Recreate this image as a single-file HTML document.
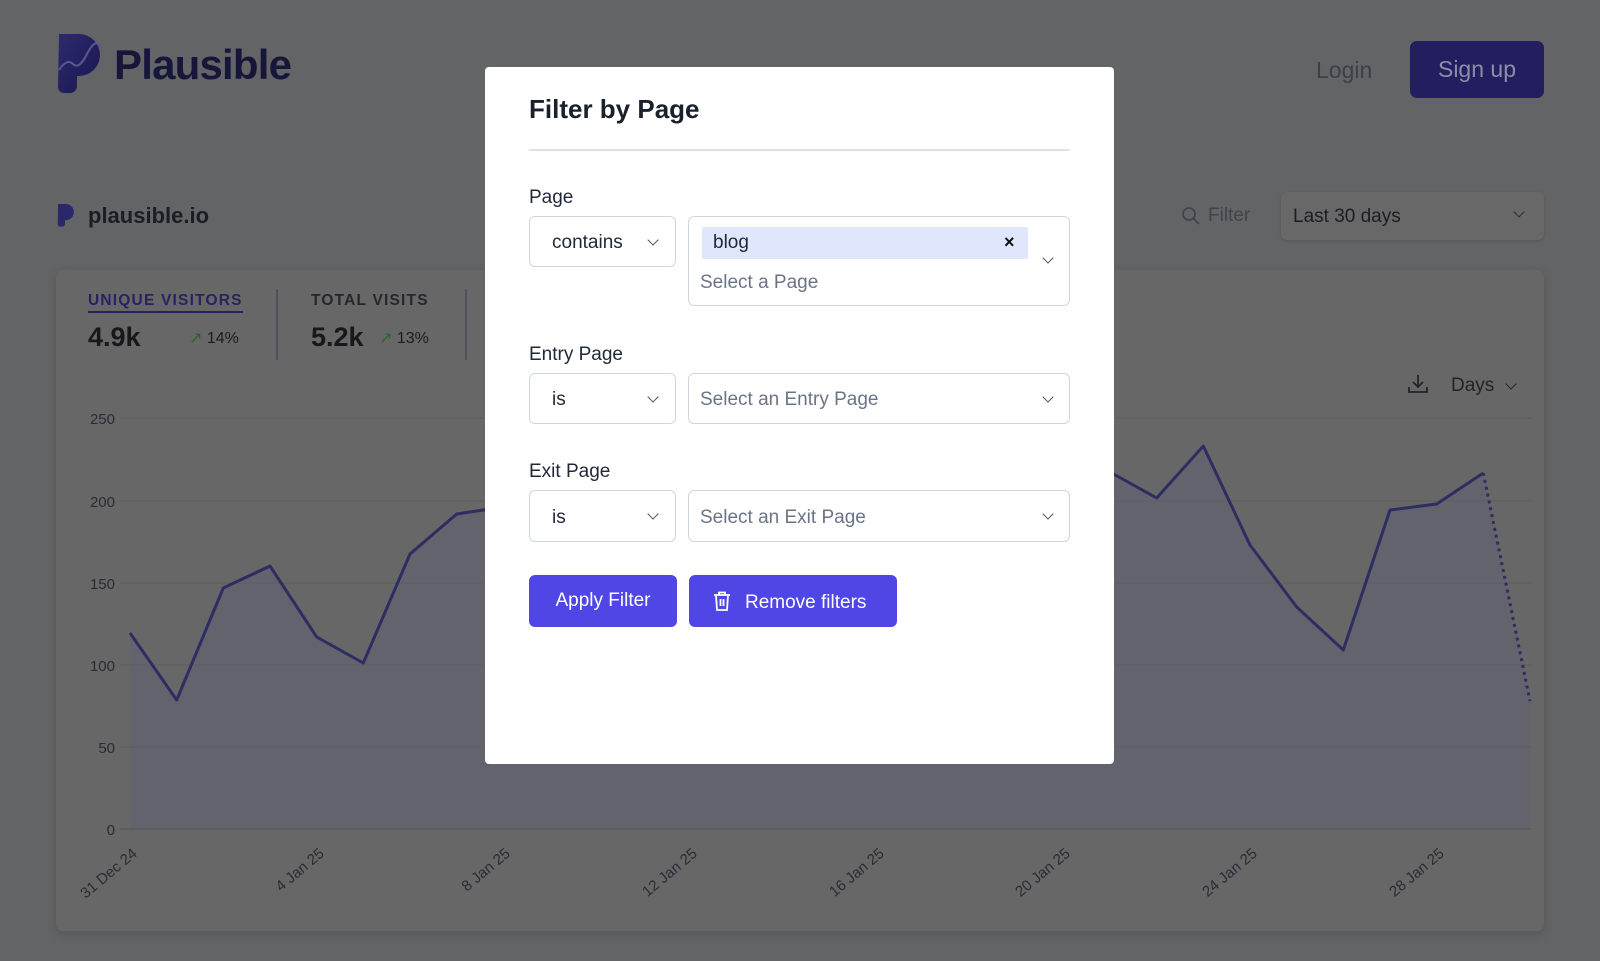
<!DOCTYPE html>
<html><head><meta charset="utf-8"><style>
*{box-sizing:border-box;margin:0;padding:0}
body{width:1600px;height:961px;overflow:hidden;background:#636466;font-family:"Liberation Sans",sans-serif;position:relative}
.a{position:absolute;white-space:nowrap}
.sel{position:absolute;background:#fff;border:1.5px solid #cfd5e1;border-radius:6px}
.chev{position:absolute;width:8px;height:8px;border-right:1.6px solid #4b5563;border-bottom:1.6px solid #4b5563;transform:rotate(45deg)}
.lbl{font-size:19px;color:#1f2937}
.btn{position:absolute;background:#4f46e5;border-radius:6px;color:#fff;font-size:19px}
</style></head><body>
<svg class="a" style="left:57px;top:34px" width="45" height="60" viewBox="0 0 45 60">
<defs><linearGradient id="g" x1="0" y1="0" x2="1" y2="1"><stop offset="0" stop-color="#2c2a6e"/><stop offset="1" stop-color="#1b1650"/></linearGradient></defs>
<path d="M2 0 H22 A21 21 0 0 1 22 42 H20 V52 A7 7 0 0 1 13 59 H7 A6 6 0 0 1 1 53 Z" fill="url(#g)"/>
<path d="M2 36 Q10 24 16 30 T30 20 T43 12" stroke="#5a5691" stroke-width="2" fill="none"/>
</svg>
<div class="a" style="left:114px;top:41px;font-size:42px;font-weight:bold;color:#15163a;letter-spacing:-0.8px">Plausible</div>
<div class="a" style="left:1316px;top:57px;font-size:23px;color:#3a3f4b">Login</div>
<div class="a" style="left:1410px;top:41px;width:134px;height:57px;background:#221e5f;border-radius:7px;color:#8c8ea6;font-size:23px;text-align:center;line-height:57px">Sign up</div>
<svg class="a" style="left:57px;top:204px" width="18" height="23" viewBox="0 0 45 60"><path d="M2 0 H22 A21 21 0 0 1 22 42 H20 V52 A7 7 0 0 1 13 59 H7 A6 6 0 0 1 1 53 Z" fill="#2a276a"/></svg>
<div class="a" style="left:88px;top:203px;font-size:22px;font-weight:bold;color:#1c1d24">plausible.io</div>
<svg class="a" style="left:1181px;top:206px" width="20" height="20"><circle cx="8" cy="8" r="6" stroke="#3f434c" stroke-width="1.8" fill="none"/><line x1="12.5" y1="12.5" x2="18" y2="18" stroke="#3f434c" stroke-width="1.8"/></svg>
<div class="a" style="left:1208px;top:205px;font-size:19px;color:#3f434c">Filter</div>
<div class="a" style="left:1281px;top:192px;width:263px;height:48px;background:#686869;border-radius:6px;box-shadow:0 1px 3px rgba(0,0,0,.15)"></div>
<div class="a" style="left:1293px;top:206px;font-size:19px;color:#1c1d22">Last 30 days</div>
<div class="chev" style="left:1515px;top:208px;border-color:#2a2c33"></div>
<div class="a" style="left:56px;top:270px;width:1488px;height:661px;background:#676768;border-radius:7px;box-shadow:0 3px 10px rgba(0,0,0,.15)"></div>
<div class="a" style="left:88px;top:292px;font-size:15.5px;font-weight:bold;letter-spacing:1.2px;color:#26235f;border-bottom:2px solid #26235f;padding-bottom:1px">UNIQUE VISITORS</div>
<div class="a" style="left:88px;top:322px;font-size:27px;font-weight:bold;color:#17181c">4.9k</div>
<div class="a" style="left:189px;top:328px;font-size:16px;color:#1b1c20"><span style="color:#25662e">↗</span> 14%</div>
<div class="a" style="left:276px;top:289px;width:1.5px;height:71px;background:#4e5160"></div>
<div class="a" style="left:311px;top:292px;font-size:15.5px;font-weight:bold;letter-spacing:1.2px;color:#25272f">TOTAL VISITS</div>
<div class="a" style="left:311px;top:322px;font-size:27px;font-weight:bold;color:#17181c">5.2k</div>
<div class="a" style="left:379px;top:328px;font-size:16px;color:#1b1c20"><span style="color:#25662e">↗</span> 13%</div>
<div class="a" style="left:465px;top:289px;width:1.5px;height:71px;background:#4e5160"></div>
<svg class="a" style="left:1407px;top:373px" width="22" height="22"><path d="M11 2 V13 M6 9 L11 14 L16 9 M2 14 V19 H20 V14" stroke="#22242a" stroke-width="1.8" fill="none"/></svg>
<div class="a" style="left:1451px;top:375px;font-size:19px;color:#22242a">Days</div>
<div class="chev" style="left:1507px;top:380px;border-color:#22242a"></div>
<svg class="a" style="left:0;top:0" width="1600" height="961">
<polygon fill="#62636d" points="130,829 130,633 176.7,700 223.3,588 270,566 316.7,637 363.3,663 410,554 456.7,514 503.3,507 550,500 1110,472 1156.7,498 1203.3,446 1250,545 1296.7,607 1343.3,650 1390,510 1436.7,504 1483.3,473 1530,701 1530,829"/>
<g stroke="#5c5d62" stroke-width="1">
<line x1="120" x2="1531" y1="418" y2="418"/><line x1="120" x2="1531" y1="501" y2="501"/><line x1="120" x2="1531" y1="583" y2="583"/><line x1="120" x2="1531" y1="665" y2="665"/><line x1="120" x2="1531" y1="747" y2="747"/></g>
<line x1="120" x2="1531" y1="829" y2="829" stroke="#58595b" stroke-width="1.5"/>
<g font-size="15" fill="#2a2c32" text-anchor="end" font-family="Liberation Sans">
<text x="115" y="424">250</text><text x="115" y="507">200</text><text x="115" y="589">150</text><text x="115" y="671">100</text><text x="115" y="753">50</text><text x="115" y="835">0</text></g>
<polyline fill="none" stroke="#2e2d62" stroke-width="3" stroke-linejoin="round" points="130,633 176.7,700 223.3,588 270,566 316.7,637 363.3,663 410,554 456.7,514 503.3,507 550,500 1110,472 1156.7,498 1203.3,446 1250,545 1296.7,607 1343.3,650 1390,510 1436.7,504 1483.3,473"/>
<line x1="1483.3" y1="473" x2="1530" y2="701" stroke="#2e2d62" stroke-width="3" stroke-dasharray="3,4"/>
<g font-size="15" fill="#2a2c32" text-anchor="end" font-family="Liberation Sans">
<text transform="translate(138,855) rotate(-40)">31 Dec 24</text>
<text transform="translate(325,855) rotate(-40)">4 Jan 25</text>
<text transform="translate(511,855) rotate(-40)">8 Jan 25</text>
<text transform="translate(698,855) rotate(-40)">12 Jan 25</text>
<text transform="translate(885,855) rotate(-40)">16 Jan 25</text>
<text transform="translate(1071,855) rotate(-40)">20 Jan 25</text>
<text transform="translate(1258,855) rotate(-40)">24 Jan 25</text>
<text transform="translate(1445,855) rotate(-40)">28 Jan 25</text>
</g></svg>
<div class="a" style="left:485px;top:67px;width:629px;height:697px;background:#fff;border-radius:4px"></div>
<div class="a" style="left:529px;top:94px;font-size:26px;font-weight:bold;color:#1a202c">Filter by Page</div>
<div class="a" style="left:529px;top:149px;width:541px;height:2px;background:#dde1ea"></div>
<div class="a lbl" style="left:529px;top:187px">Page</div>
<div class="sel" style="left:529px;top:216px;width:147px;height:51px"></div>
<div class="a" style="left:552px;top:232px;font-size:19px;color:#1f2937">contains</div>
<div class="chev" style="left:649px;top:236px"></div>
<div class="sel" style="left:688px;top:216px;width:382px;height:90px"></div>
<div class="a" style="left:702px;top:227px;width:326px;height:32px;background:#e0e6fb;border-radius:2px"></div>
<div class="a" style="left:713px;top:232px;font-size:19px;color:#1f2937">blog</div>
<div class="a" style="left:1004px;top:232px;font-size:18px;font-weight:bold;color:#111">×</div>
<div class="a" style="left:700px;top:272px;font-size:19px;color:#6b7487">Select a Page</div>
<div class="chev" style="left:1044px;top:254px"></div>
<div class="a lbl" style="left:529px;top:344px">Entry Page</div>
<div class="sel" style="left:529px;top:373px;width:147px;height:51px"></div>
<div class="a" style="left:552px;top:389px;font-size:19px;color:#1f2937">is</div>
<div class="chev" style="left:649px;top:393px"></div>
<div class="sel" style="left:688px;top:373px;width:382px;height:51px"></div>
<div class="a" style="left:700px;top:389px;font-size:19px;color:#6b7487">Select an Entry Page</div>
<div class="chev" style="left:1044px;top:393px"></div>
<div class="a lbl" style="left:529px;top:461px">Exit Page</div>
<div class="sel" style="left:529px;top:490px;width:147px;height:52px"></div>
<div class="a" style="left:552px;top:507px;font-size:19px;color:#1f2937">is</div>
<div class="chev" style="left:649px;top:510px"></div>
<div class="sel" style="left:688px;top:490px;width:382px;height:52px"></div>
<div class="a" style="left:700px;top:507px;font-size:19px;color:#6b7487">Select an Exit Page</div>
<div class="chev" style="left:1044px;top:510px"></div>
<div class="btn" style="left:529px;top:575px;width:148px;height:52px;line-height:52px;text-align:center">Apply Filter</div>
<div class="btn" style="left:689px;top:575px;width:208px;height:52px"></div>
<svg class="a" style="left:713px;top:591px" width="18" height="20"><path d="M1 4 H17 M6 4 V1.5 H12 V4 M3 4 L4 19 H14 L15 4 M7.5 8 V15 M10.5 8 V15" stroke="#fff" stroke-width="1.8" fill="none"/></svg>
<div class="a" style="left:745px;top:592px;font-size:19px;color:#fff">Remove filters</div>
</body></html>
